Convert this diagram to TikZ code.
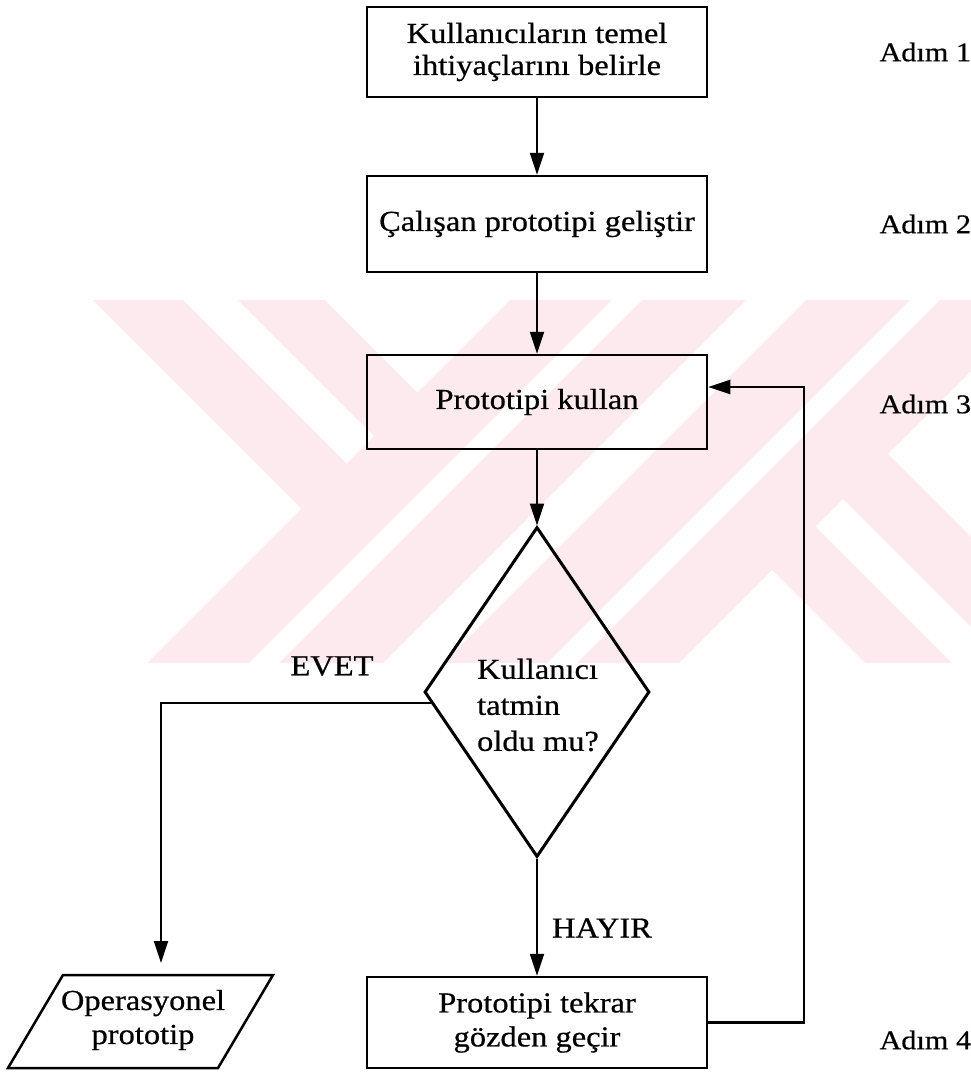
\documentclass[tikz,border=0pt]{standalone}
\usepackage{fontspec}
\setmainfont{Liberation Serif}[FakeStretch=1.12, FakeBold=0.6]
\usetikzlibrary{arrows.meta,shapes.geometric}
\definecolor{wmpink}{RGB}{253,234,238}
\begin{document}
\begin{tikzpicture}[x=1pt,y=-1pt,
  every node/.style={font=\fontsize{29}{32}\selectfont},
  stepbox/.style={draw, line width=2.5pt, minimum width=340pt, inner sep=0pt, align=center},
  steplabel/.style={anchor=west, font=\fontsize{27}{32}\selectfont},
  link/.style={line width=2.2pt, -{Triangle[length=22pt,width=14pt]}},
  wm/.style={fill=wmpink, draw=none},
]
\useasboundingbox (0,0) rectangle (971,1074);

% background stripes
\begin{scope}
  \clip (93,300) rectangle (971,663);
  \fill[wm] (93,300) -- (183,300) -- (346.5,463.5) -- (301.5,508.5) -- cycle;
  \fill[wm] (238,300) -- (325,300) -- (417.5,392.5) -- (374,436) -- cycle;
  \fill[wm] (510,300) -- (612,300) -- (249,663) -- (147,663) -- cycle;
  \fill[wm] (642,300) -- (746,300) -- (383,663) -- (279,663) -- cycle;
  \fill[wm] (806,300) -- (910,300) -- (547,663) -- (443,663) -- cycle;
  \fill[wm] (940,300) -- (1042,300) -- (679,663) -- (577,663) -- cycle;
  \fill[wm] (843,499) -- (888,454) -- (1097,663) -- (1007,663) -- cycle;
  \fill[wm] (772,570) -- (815.5,526.5) -- (952,663) -- (865,663) -- cycle;
\end{scope}

% process steps
\node[stepbox, minimum height=90pt] (b1) at (537,52) {Kullanıcıların temel\\ihtiyaçlarını belirle};
\node[stepbox, minimum height=96pt] (b2) at (537,224) {Çalışan prototipi geliştir};
\node[stepbox, minimum height=94pt] (b3) at (537,402) {Prototipi kullan};
\node[draw, diamond, line width=3pt, minimum width=225pt, minimum height=330pt, inner sep=0pt] (dia) at (537,692) {};
\node[align=left, font=\fontsize{29}{36}\selectfont] (dq) at (538,705) {Kullanıcı\\tatmin\\oldu mu?};
\node[stepbox, minimum height=91pt, font=\fontsize{29}{34}\selectfont] (b4) at (537,1022.5) {Prototipi tekrar\\gözden geçir};

% output parallelogram
\coordinate (p1) at (8,1068);
\coordinate (p2) at (218,1068);
\coordinate (p3) at (273,975);
\coordinate (p4) at (63,975);
\coordinate (optop) at (161,975);
\draw[line width=2.5pt, line join=miter] (p1) -- (p2) -- (p3) -- (p4) -- cycle;
\node[align=center, font=\fontsize{29}{34}\selectfont] (op) at (143,1020) {Operasyonel\\prototip};

% step labels
\node[steplabel] (s1) at (876,52) {Adım 1};
\node[steplabel] (s2) at (876,224) {Adım 2};
\node[steplabel] (s3) at (876,404) {Adım 3};
\node[steplabel] (s4) at (876,1040) {Adım 4};

% branch labels
\node (evet) at (332,666) {EVET};
\node (hayir) at (602,928) {HAYIR};

% connectors
\draw[link] (b1) -- (b2);
\draw[link] (b2) -- (b3);
\draw[link] (b3) -- (dia);
\draw[link] (dia.south) -- (b4.north);
\draw[link, shorten >=12pt] (dia.186) -| (optop);
\draw[link] (b4.east) -| ([xshift=96pt]b3.5) -- (b3.5);
\end{tikzpicture}
\end{document}
